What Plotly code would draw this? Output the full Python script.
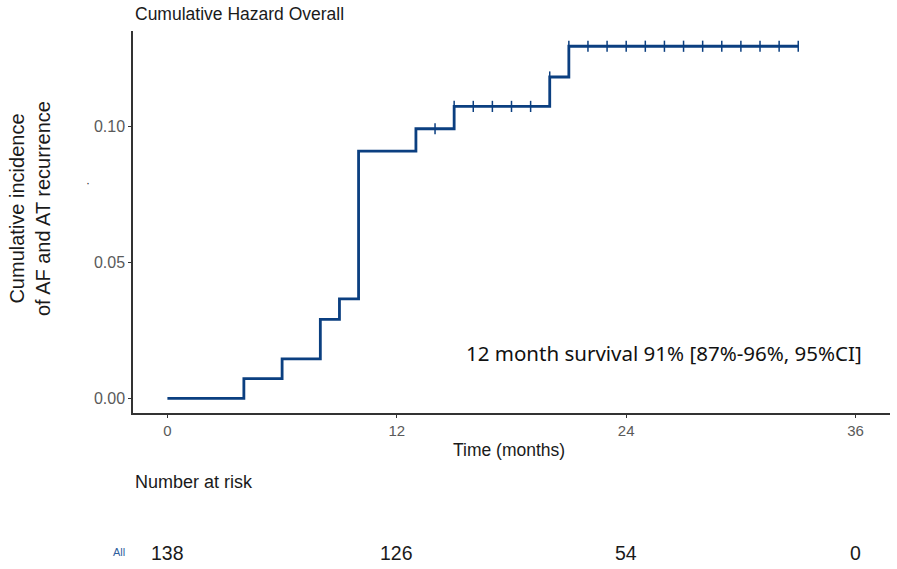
import plotly.graph_objects as go

# Step data (cumulative incidence)
step_times = [0, 4, 6, 8, 9, 10, 13, 15, 20, 21, 33]
step_values = [0.0, 0.0072, 0.0145, 0.0290, 0.0365, 0.0908, 0.0990, 0.1072, 0.1180, 0.1293, 0.1293]

# Censoring marks
censor_times = [14, 15, 16, 17, 18, 19, 20, 21, 22, 23, 24, 25, 26, 27, 28, 29, 30, 31, 32, 33]
censor_values = [0.0990, 0.1072, 0.1072, 0.1072, 0.1072, 0.1072, 0.1180,
                 0.1293, 0.1293, 0.1293, 0.1293, 0.1293, 0.1293, 0.1293, 0.1293,
                 0.1293, 0.1293, 0.1293, 0.1293, 0.1293]

# Risk table
risk_times = [0, 12, 24, 36]
risk_counts = [138, 126, 54, 0]

x_ticks = [0, 12, 24, 36]
y_ticks = [0.00, 0.05, 0.10]
y_tick_labels = ["0.00", "0.05", "0.10"]

LINE = "#0B3F80"
FONT = "Liberation Sans, Arial, sans-serif"
NARROW = "Liberation Sans Narrow, Liberation Sans, Arial, sans-serif"

W, H = 897, 569
# plot area in pixel coordinates
L, R, T, B = 133, 890, 31, 413

def px(xp):
    return (xp - L) / (R - L)

def py(yp):
    return (B - yp) / (B - T)

fig = go.Figure()
fig.add_trace(go.Scatter(
    x=step_times, y=step_values, mode="lines",
    line=dict(color=LINE, width=2.8, shape="hv"),
    hoverinfo="skip", showlegend=False))
fig.add_trace(go.Scatter(
    x=censor_times, y=censor_values, mode="markers",
    marker=dict(symbol="line-ns-open", size=8, color=LINE, line=dict(color=LINE, width=1.5)),
    hoverinfo="skip", showlegend=False))

annotations = [
    dict(text="Cumulative Hazard Overall", x=px(133), y=py(14), xref="paper", yref="paper",
         xanchor="left", yanchor="middle", showarrow=False,
         font=dict(family=FONT, size=17.5, color="#1a1a1a")),
    dict(text="12 month survival 91% [87%-96%, 95%CI]", x=px(664), y=py(353), xref="paper", yref="paper",
         xanchor="center", yanchor="middle", showarrow=False,
         font=dict(family="Noto Sans, sans-serif", size=20.5, color="#111111")),
    dict(text="Number at risk", x=px(133), y=py(482), xref="paper", yref="paper",
         xanchor="left", yanchor="middle", showarrow=False,
         font=dict(family=FONT, size=18, color="#1a1a1a")),
    dict(text="All", x=px(119), y=py(552), xref="paper", yref="paper",
         xanchor="center", yanchor="middle", showarrow=False,
         font=dict(family=FONT, size=11, color="#2F5F9E")),
    dict(text="·", x=px(88), y=py(183), xref="paper", yref="paper",
         xanchor="center", yanchor="middle", showarrow=False,
         font=dict(family=FONT, size=12, color="#333333")),
    dict(text="Cumulative incidence<br>of AF and AT recurrence", x=px(30), y=py(208),
         xref="paper", yref="paper", xanchor="center", yanchor="middle", showarrow=False,
         textangle=-90, font=dict(family=FONT, size=20, color="#1a1a1a")),
    dict(text="Time (months)", x=px(509), y=py(450), xref="paper", yref="paper",
         xanchor="center", yanchor="middle", showarrow=False,
         font=dict(family=FONT, size=17.5, color="#1a1a1a")),
]
for t, n in zip(risk_times, risk_counts):
    annotations.append(dict(text=str(n), x=t, y=py(553), xref="x", yref="paper",
                            xanchor="center", yanchor="middle", showarrow=False,
                            font=dict(family=NARROW, size=19.5, color="#1a1a1a")))

fig.update_layout(
    width=W, height=H,
    margin=dict(l=L, r=W - R, t=T, b=H - B, pad=0),
    paper_bgcolor="white", plot_bgcolor="white",
    font=dict(family=FONT),
    annotations=annotations,
    xaxis=dict(range=[-1.8, 37.8], tickvals=x_ticks, ticks="outside", ticklen=3,
               tickcolor="#333333", showline=True, linecolor="#333333", linewidth=1.5,
               showgrid=False, zeroline=False,
               tickfont=dict(family=FONT, size=15, color="#5a5a5a")),
    yaxis=dict(range=[-0.0054, 0.1349], tickvals=y_ticks, ticktext=y_tick_labels,
               ticks="outside", ticklen=3, tickcolor="#333333",
               showline=True, linecolor="#333333", linewidth=1.5,
               showgrid=False, zeroline=False,
               tickfont=dict(family=FONT, size=16, color="#5a5a5a")),
)

fig.write_html("out.html", config={"displayModeBar": False},
               post_script="document.body.style.margin='0';document.body.style.overflow='hidden';")
